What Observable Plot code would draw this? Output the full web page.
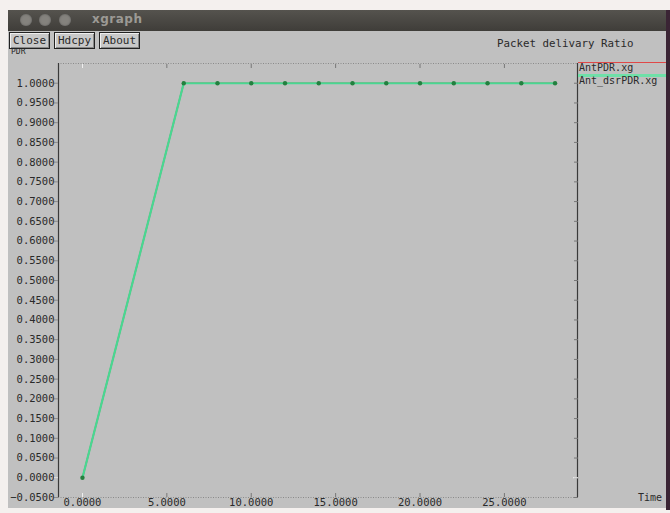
<!DOCTYPE html>
<html>
<head>
<meta charset="utf-8">
<script src="https://cdn.jsdelivr.net/npm/d3@7"></script>
<script src="https://cdn.jsdelivr.net/npm/@observablehq/plot@0.6"></script>
<style>
  html, body { margin: 0; padding: 0; }
  body { width: 670px; height: 513px; overflow: hidden; position: relative; background: #f4f0ee; font-family: "DejaVu Sans Mono", monospace; color: #2a2a2a; }
  #win { position: absolute; left: 8px; top: 10px; width: 658px; height: 498px; background: #c0c0c0; }
  #edge { position: absolute; left: 666px; top: 10px; width: 4px; height: 500px; background: #3a2434; }
  #titlebar { position: absolute; left: 8px; top: 10px; width: 658px; height: 21px; background: linear-gradient(#55534e, #3f3d39); }
  .circ { position: absolute; top: 4px; width: 12px; height: 12px; border-radius: 50%; background: #85837e; box-shadow: inset 0 0 2px #555; }
  #wtitle { position: absolute; left: 84px; top: 2px; font-family: "DejaVu Sans", sans-serif; font-weight: bold; font-size: 12px; color: #9c9a95; letter-spacing: 0.5px; }
  .btn { position: absolute; top: 32px; height: 15px; border: 1px solid #222; background: #c8c8c8; font-size: 11px; line-height: 15px; padding: 0 3px; box-shadow: inset 1px 1px 0 #eee, inset -1px -1px 0 #888; z-index: 3; }
  #pdr { position: absolute; left: 11px; top: 48px; font-size: 8px; line-height: 8px; z-index: 1; }
  #ptitle { position: absolute; left: 497px; top: 37px; font-size: 10.8px; }
  #time { position: absolute; left: 638px; top: 492px; font-size: 10px; }
  #chart { position: absolute; left: 0; top: 36px; z-index: 2; }
  .leg { position: absolute; left: 579px; font-size: 10px; z-index: 4; }
  .legline { position: absolute; left: 578px; width: 88px; z-index: 4; }
</style>
</head>
<body>
<div id="win"></div>
<div id="edge"></div>
<div id="titlebar">
  <div class="circ" style="left:12px"></div>
  <div class="circ" style="left:31px"></div>
  <div class="circ" style="left:51px"></div>
  <div id="wtitle">xgraph</div>
</div>
<div class="btn" style="left:9px">Close</div>
<div class="btn" style="left:54px">Hdcpy</div>
<div class="btn" style="left:99px">About</div>
<div id="pdr">PDR</div>
<div id="ptitle">Packet delivary Ratio</div>
<div id="time">Time</div>
<div class="legline" style="top:62px;height:1px;background:#e04848"></div>
<div class="leg" style="top:62px">AntPDR.xg</div>
<div class="legline" style="top:74px;height:3px;background:#6fe0a8"></div>
<div class="leg" style="top:75px">Ant_dsrPDR.xg</div>
<div id="chart"></div>
<script>
const times = [0, 6, 8, 10, 12, 14, 16, 18, 20, 22, 24, 26, 28];
const antPDR = [0, 1, 1, 1, 1, 1, 1, 1, 1, 1, 1, 1, 1];
const antDsrPDR = [0, 1, 1, 1, 1, 1, 1, 1, 1, 1, 1, 1, 1];
const xTicks = [0, 5, 10, 15, 20, 25];
const yTicks = d3.range(-0.05, 1.0001, 0.05).map(v => +v.toFixed(2));
const zeroTick = [0];
const xDomain = [-1.42, 29.33];
const yDomain = [-0.05, 1.05];

const red = times.map((t, i) => ({t, v: antPDR[i]}));
const green = times.map((t, i) => ({t, v: antDsrPDR[i]}));
const fmt = d3.format(".4f");
const blank = () => "";

const chart = Plot.plot({
  width: 670,
  height: 477,
  marginLeft: 58,
  marginRight: 93,
  marginTop: 27,
  marginBottom: 16,
  style: {background: "transparent", fontFamily: "DejaVu Sans Mono, monospace", fontSize: "10.5px", color: "#2a2a2a"},
  x: {domain: xDomain},
  y: {domain: yDomain},
  marks: [
    Plot.ruleY(yDomain, {stroke: "#8a8a8a", strokeDasharray: "1,1.5"}),
    Plot.ruleX(xDomain, {stroke: "#3a3a3a", strokeWidth: 1.2}),
    Plot.axisY({anchor: "left", ticks: yTicks, tickFormat: fmt, tickSize: 4, tickPadding: 0, stroke: "#8a8a8a", fill: "#2a2a2a", label: null}),
    Plot.axisY({anchor: "right", ticks: yTicks, tickFormat: blank, tickSize: -4, tickPadding: 0, stroke: "#777", label: null}),
    Plot.axisX({anchor: "bottom", ticks: xTicks, tickFormat: fmt, tickSize: 0, tickPadding: 1, fill: "#2a2a2a", label: null}),
    Plot.axisX({anchor: "bottom", ticks: xTicks, tickFormat: blank, tickSize: -4, tickPadding: 0, stroke: "#777", label: null}),
    Plot.axisX({anchor: "top", ticks: xTicks, tickFormat: blank, tickSize: -4, tickPadding: 0, stroke: "#777", label: null}),
    Plot.axisX({anchor: "bottom", ticks: zeroTick, tickFormat: blank, tickSize: -4, tickPadding: 0, stroke: "#f4f4f4", label: null}),
    Plot.axisX({anchor: "top", ticks: zeroTick, tickFormat: blank, tickSize: -4, tickPadding: 0, stroke: "#f4f4f4", label: null}),
    Plot.axisY({anchor: "right", ticks: zeroTick, tickFormat: blank, tickSize: -5, tickPadding: 0, stroke: "#f4f4f4", label: null}),
    Plot.axisY({anchor: "left", ticks: zeroTick, tickFormat: blank, tickSize: 4, tickPadding: 0, stroke: "#f4f4f4", label: null}),
    Plot.line(red, {x: "t", y: "v", stroke: "#e04848", strokeWidth: 1.5}),
    Plot.line(green, {x: "t", y: "v", stroke: "#47d892", strokeWidth: 2.2}),
    Plot.dot(green, {x: "t", y: "v", r: 2.2, fill: "#23803f", stroke: "none"})
  ]
});
document.getElementById("chart").appendChild(chart);
</script>
</body>
</html>
